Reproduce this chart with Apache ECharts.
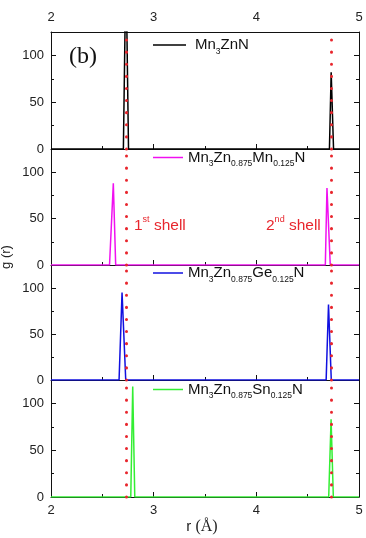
<!DOCTYPE html>
<html><head><meta charset="utf-8">
<script src="https://cdn.jsdelivr.net/npm/echarts@6/dist/echarts.min.js"></script>
<style>html,body{margin:0;padding:0;background:#fff}#c{width:366px;height:538px}</style>
</head><body><div id="c"></div>
<script>
// ---- data ----
const xTickValues = [2, 3, 4, 5];
const yTickValues = [0, 50, 100];
const shellPositions = [2.73, 4.73];
const seriesNames = ['Mn3ZnN', 'Mn3Zn0.875Mn0.125N', 'Mn3Zn0.875Ge0.125N', 'Mn3Zn0.875Sn0.125N'];
const legendLabels = [
  '{p|}{m|Mn}{s|3}{m|ZnN}',
  '{m|Mn}{s|3}{m|Zn}{s|0.875}{m|Mn}{s|0.125}{m|N}',
  '{m|Mn}{s|3}{m|Zn}{s|0.875}{m|Ge}{s|0.125}{m|N}',
  '{m|Mn}{s|3}{m|Zn}{s|0.875}{m|Sn}{s|0.125}{m|N}'
];
const rMn3ZnN = [2.0, 2.705, 2.73, 2.755, 4.712, 4.729, 4.752, 5.0];
const gMn3ZnN = [0, 0, 200, 0, 0, 82, 0, 0];
const rMnDoped = [2.0, 2.57, 2.607, 2.63, 4.672, 4.688, 4.72, 5.0];
const gMnDoped = [0, 0, 88, 0, 0, 83, 0, 0];
const rGeDoped = [2.0, 2.663, 2.692, 2.728, 4.68, 4.703, 4.73, 5.0];
const gGeDoped = [0, 0, 95, 0, 0, 82, 0, 0];
const rSnDoped = [2.0, 2.777, 2.796, 2.816, 4.705, 4.728, 4.75, 5.0];
const gSnDoped = [0, 0, 118, 0, 0, 83, 0, 0];
const rValues = [rMn3ZnN, rMnDoped, rGeDoped, rSnDoped];
const gValues = [gMn3ZnN, gMnDoped, gGeDoped, gSnDoped];

// ---- layout / style ----
const colors = ['#000000', '#f010f0', '#1010e0', '#33ee33'];
const red = '#e8262d';
const gridTops = [32, 149, 265, 380];
const gridHeights = [117, 116, 115, 117];
const legendCenters = [48.5, 161, 276.5, 393];
const FONT = 'Liberation Sans, Arial, sans-serif';
const axisColor = '#111';

const grids = [], xAxes = [], yAxes = [], series = [], legends = [];
for (let i = 0; i < 4; i++) {
  grids.push({left: 51, right: 7, top: gridTops[i], height: gridHeights[i]});
  xAxes.push({
    type: 'value', gridIndex: i, min: 2, max: 5, interval: 1, position: 'bottom',
    axisLine: {show: true, onZero: false, lineStyle: {color: axisColor, width: 1}},
    axisTick: {show: true, inside: true, length: 5, lineStyle: {color: axisColor}},
    minorTick: {show: true, splitNumber: 2, length: 3, lineStyle: {color: axisColor}},
    splitLine: {show: false},
    axisLabel: {show: i === 3, color: '#222', fontSize: 13, fontFamily: FONT, margin: 7,
      formatter: v => xTickValues.includes(v) ? String(v) : ''}
  });
  yAxes.push({
    type: 'value', gridIndex: i, min: 0, max: 125, interval: 50, position: 'left',
    axisLine: {show: true, onZero: false, lineStyle: {color: axisColor, width: 1}},
    axisTick: {show: true, inside: true, length: 5, lineStyle: {color: axisColor}},
    minorTick: {show: true, splitNumber: 2, length: 3, lineStyle: {color: axisColor}},
    splitLine: {show: false},
    axisLabel: {show: true, showMaxLabel: false, color: '#222', fontSize: 13, fontFamily: FONT, margin: 7,
      formatter: v => yTickValues.includes(v) ? String(v) : ''}
  });
  yAxes.push({
    type: 'value', gridIndex: i, min: 0, max: 125, interval: 50, position: 'right',
    axisLine: {show: true, onZero: false, lineStyle: {color: axisColor, width: 1}},
    axisTick: {show: true, inside: true, length: 5, lineStyle: {color: axisColor}},
    minorTick: {show: true, splitNumber: 2, length: 3, lineStyle: {color: axisColor}},
    splitLine: {show: false},
    axisLabel: {show: false}
  });
  series.push({
    name: seriesNames[i], type: 'line', xAxisIndex: i, yAxisIndex: i * 2,
    data: rValues[i].map((r, k) => [r, gValues[i][k]]),
    showSymbol: false, symbol: 'none', clip: true, z: 3,
    color: colors[i],
    lineStyle: {color: colors[i], width: 1.5},
    markLine: {
      silent: true, symbol: ['none', 'none'], animation: false, z: 5,
      label: {show: false},
      lineStyle: {color: red, type: [0.1, 12], cap: 'round', width: 3},
      emphasis: {disabled: true},
      data: shellPositions.map(p => ({xAxis: p}))
    }
  });
  legends.push({
    data: [seriesNames[i]], left: 153, top: legendCenters[i] - 11, padding: 0,
    icon: 'rect', itemWidth: i === 0 ? 33 : 30, itemHeight: 1.5, selectedMode: false,
    formatter: () => legendLabels[i],
    textStyle: {
      color: '#111',
      rich: {
        m: {fontSize: 15, fontFamily: FONT, lineHeight: 22, color: '#111'},
        s: {fontSize: 8.5, fontFamily: FONT, lineHeight: 8, verticalAlign: 'bottom', color: '#111'},
        p: {width: 4}
      }
    }
  });
}
// top axis of first panel
xAxes.push({
  type: 'value', gridIndex: 0, min: 2, max: 5, interval: 1, position: 'top',
  axisLine: {show: true, onZero: false, lineStyle: {color: axisColor, width: 1}},
  axisTick: {show: false}, splitLine: {show: false},
  axisLabel: {show: true, color: '#222', fontSize: 13, fontFamily: FONT, margin: 8}
});

const shellRich = {
  t: {fontSize: 15.5, fontFamily: FONT, lineHeight: 22, fill: red},
  u: {fontSize: 9, fontFamily: FONT, lineHeight: 9, verticalAlign: 'top', fill: red}
};

const option = {
  animation: false,
  backgroundColor: '#fff',
  grid: grids, xAxis: xAxes, yAxis: yAxes, series: series, legend: legends,
  graphic: [
    {type: 'text', x: 69, y: 57, z: 10, style: {text: '(b)', font: '24px "Liberation Serif", "Times New Roman", serif', fill: '#111', verticalAlign: 'middle'}},
    {type: 'text', x: 134, y: 226, z: 10, style: {text: '{t|1}{u|st}{t| shell}', rich: shellRich, verticalAlign: 'middle'}},
    {type: 'text', x: 266, y: 226, z: 10, style: {text: '{t|2}{u|nd}{t| shell}', rich: shellRich, verticalAlign: 'middle'}},
    {type: 'text', x: 6, y: 257, rotation: Math.PI / 2, z: 10, style: {text: 'g (r)', font: '13px ' + FONT, fill: '#222', align: 'center', verticalAlign: 'middle'}},
    {type: 'text', x: 202, y: 527, z: 10, style: {text: '{a|r }{b|(Å)}', align: 'center', verticalAlign: 'middle',
      rich: {a: {fontSize: 15, fontFamily: FONT, fill: '#222'}, b: {fontSize: 16, fontFamily: '"Liberation Serif", serif', fill: '#222'}}}}
  ]
};
const chart = echarts.init(document.getElementById('c'), null, {renderer: 'canvas'});
chart.setOption(option);
</script></body></html>
